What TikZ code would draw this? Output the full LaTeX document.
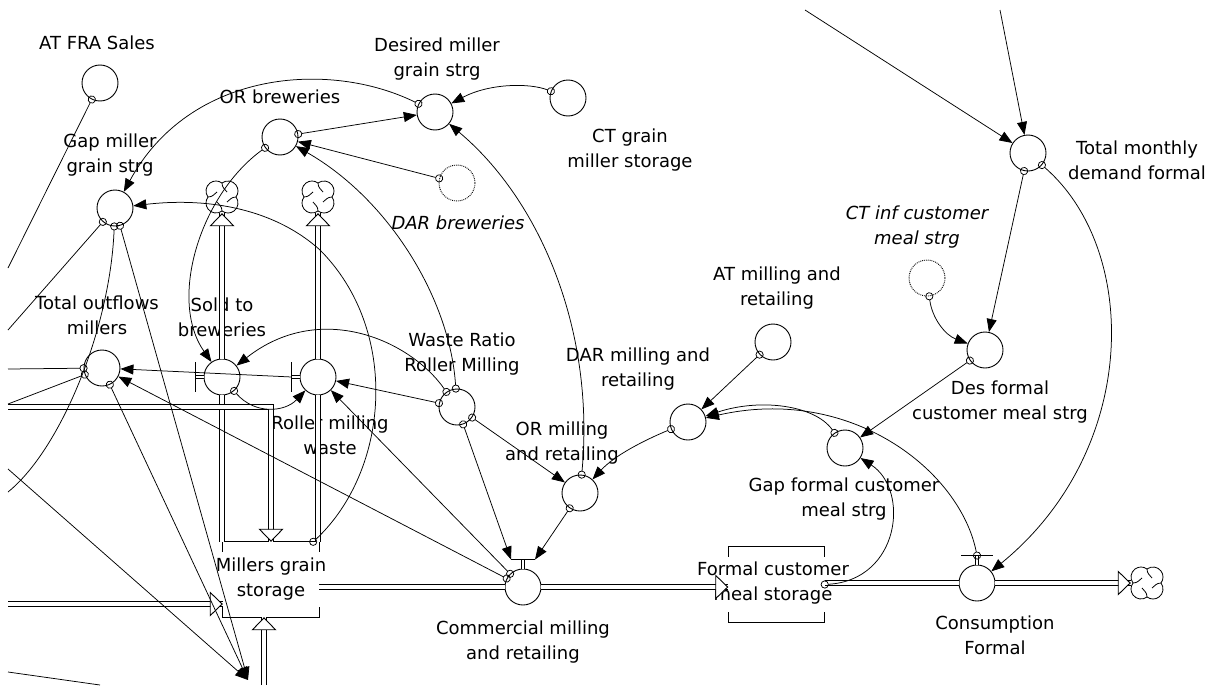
\documentclass[tikz,border=0pt]{standalone}
\usepackage{fontspec}
\setmainfont{DejaVu Sans}
\usepackage{tikz}
\usetikzlibrary{arrows.meta,calc}
\definecolor{SfInk}{RGB}{0,0,0}
\newcommand{\sflabel}{\fontsize{18}{25}\selectfont}
\tikzset{
  sf/aux/.style={
    circle,
    draw=SfInk,
    line width=0.9pt,
    minimum size=36pt,
    inner sep=0pt
  },
  sf/ghost/.style={sf/aux, densely dotted},
  sf/stock/.style={
    rectangle,
    minimum width=96pt,
    minimum height=75pt,
    inner sep=0pt
  },
  sf/cloudspot/.style={circle, minimum size=32pt, inner sep=0pt},
  sf/clover/.pic={
    \foreach \a in {45,135,225,315} {
      \draw[SfInk, line width=0.8pt] ($(\a:8.49)+(\a-81.9:10)$) arc[start angle=\a-81.9, end angle=\a+81.9, radius=10];
      \draw[SfInk, line width=0.8pt] (\a-45:14) .. controls (\a-45:9) and ($(\a-45:8)+(\a+45:3)$) .. ($(\a-45:5)+(\a+45:5)$);
    }
  },
  sf/label/.style={align=center, font=\sflabel, text=SfInk, inner sep=0pt},
  sf/italic/.style={sf/label, font=\sflabel\itshape},
  sf/pipe/.style={draw=SfInk, line width=0.9pt, double=white, double distance=3.6pt},
  sf/pipehead/.style={draw=white, line width=0.4pt, -{Triangle[length=13pt,width=25pt,color=SfInk,fill=white,line width=0.9pt]}},
  sf/stem/.style={draw=SfInk, line width=0.7pt, double=white, double distance=2.4pt},
  sf/bar/.style={draw=SfInk, line width=1pt},
  sf/edge/.style={draw=SfInk, line width=0.9pt},
  sf/link/.style={draw=SfInk, line width=0.75pt, {Circle[open,length=8pt,width=8pt]}-{Triangle[length=13pt,width=10pt]}, shorten <=-4pt},
  sf/linkout/.style={draw=SfInk, line width=0.75pt, {Circle[open,length=8pt,width=8pt]}-, shorten <=-4pt},
  sf/linkin/.style={draw=SfInk, line width=0.75pt, -{Triangle[length=13pt,width=10pt]}},
  sf/plain/.style={draw=SfInk, line width=0.75pt}
}

\begin{document}
\begin{tikzpicture}[x=1pt,y=-1pt]
  \useasboundingbox (0,0) rectangle (1206,685);

  % auxiliaries
  \node[sf/aux] (atfra) at (100,83) {};
  \node[sf/label] (atfraL) at (97,43) {AT FRA Sales};
  \node[sf/aux] (gapmill) at (115,208) {};
  \node[sf/label] (gapmillL) at (110,155) {Gap miller\\grain strg};
  \node[sf/aux] (orbrew) at (280,137) {};
  \node[sf/label] (orbrewL) at (280,97) {OR breweries};
  \node[sf/aux] (desmill) at (435,112) {};
  \node[sf/label] (desmillL) at (437,59) {Desired miller\\grain strg};
  \node[sf/aux] (ctgrain) at (568,98) {};
  \node[sf/label] (ctgrainL) at (630,150) {CT grain\\miller storage};
  \node[sf/ghost] (darbrew) at (457,183) {};
  \node[sf/italic] (darbrewL) at (458,223) {DAR breweries};
  \node[sf/aux] (totout) at (102,368) {};
  \node[sf/label] (totoutL) at (97,315) {Total outflows\\millers};
  \node[sf/aux] (waste) at (457,407) {};
  \node[sf/label] (wasteL) at (462,354) {Waste Ratio\\Roller Milling};
  \node[sf/aux] (ormill) at (580,493) {};
  \node[sf/label] (ormillL) at (562,443) {OR milling\\and retailing};
  \node[sf/aux] (darmill) at (688,422) {};
  \node[sf/label] (darmillL) at (638,369) {DAR milling and\\retailing};
  \node[sf/aux] (atmill) at (773,342) {};
  \node[sf/label] (atmillL) at (777,288) {AT milling and\\retailing};
  \node[sf/aux] (gapform) at (845,448) {};
  \node[sf/label] (gapformL) at (844,499) {Gap formal customer\\meal strg};
  \node[sf/aux] (desform) at (985,350) {};
  \node[sf/label] (desformL) at (1000,402) {Des formal\\customer meal strg};
  \node[sf/ghost] (ctinf) at (927,278) {};
  \node[sf/italic] (ctinfL) at (917,227) {CT inf customer\\meal strg};
  \node[sf/aux] (totdem) at (1028,153) {};
  \node[sf/label] (totdemL) at (1137,160) {Total monthly\\demand formal};

  % valves
  \node[sf/aux] (sold) at (222,377) {};
  \node[sf/label] (soldL) at (222,317) {Sold to\\breweries};
  \node[sf/aux] (roller) at (318,377) {};
  \node[sf/label] (rollerL) at (330,435) {Roller milling\\waste};
  \node[sf/aux] (comm) at (523,587) {};
  \node[sf/label] (commL) at (523,642) {Commercial milling\\and retailing};
  \node[sf/aux] (cons) at (977,583) {};
  \node[sf/label] (consL) at (995,635) {Consumption\\Formal};

  % stocks and clouds
  \node[sf/stock] (ms) at (271,579.5) {};
  \node[sf/label] (msL) at (ms) {Millers grain\\storage};
  \node[sf/stock] (fs) at (776.5,584.5) {};
  \node[sf/label] (fsL) at (773,583) {Formal customer\\meal storage};
  \node[sf/cloudspot] (cl1) at (222,197) {};
  \node[sf/cloudspot] (cl2) at (318,197) {};
  \node[sf/cloudspot] (cl3) at (1147,583) {};
  \pic at (cl1) {sf/clover};
  \pic at (cl2) {sf/clover};
  \pic at (cl3) {sf/clover};

  \draw[sf/edge] ($(ms.north west)+(0,10)$) -- (ms.north west) -- (ms.north east) -- ($(ms.north east)+(0,10)$);
  \draw[sf/edge] ($(ms.south west)+(0,-10)$) -- (ms.south west) -- (ms.south east) -- ($(ms.south east)+(0,-10)$);
  \draw[sf/edge] ($(fs.north west)+(0,10)$) -- (fs.north west) -- (fs.north east) -- ($(fs.north east)+(0,10)$);
  \draw[sf/edge] ($(fs.south west)+(0,-10)$) -- (fs.south west) -- (fs.south east) -- ($(fs.south east)+(0,-10)$);

  % ends outside the window
  \coordinate (offA) at (8,268);
  \coordinate (offB) at (8,330);
  \coordinate (offC) at (8,492);
  \coordinate (offD) at (8,369);
  \coordinate (offE) at (8,404);
  \coordinate (offF) at (8,469);
  \coordinate (offG) at (8,672);
  \coordinate (offH) at (100,685);
  \coordinate (botin) at (248,680);
  \coordinate (topA) at (805,10);
  \coordinate (topB) at (1000,10);
  \coordinate (inL) at (8,407);
  \coordinate (inL2) at (8,604);
  \coordinate (inB) at (264,685);

  % flows
  \draw[sf/pipe] (sold |- ms.north) -- (sold.south);
  \draw[sf/pipe] (sold.north) -- (cl1.south);
  \draw[sf/pipehead] ($(cl1.south)+(0,25)$) -- (cl1.south);
  \draw[sf/pipe] (roller |- ms.north) -- (roller.south);
  \draw[sf/pipe] (roller.north) -- (cl2.south);
  \draw[sf/pipehead] ($(cl2.south)+(0,25)$) -- (cl2.south);
  \draw[sf/pipe] (inL) -| (ms.north);
  \draw[sf/pipehead] ($(ms.north)+(0,-25)$) -- (ms.north);
  \draw[sf/pipe] (inL2) -- (inL2 -| ms.west);
  \draw[sf/pipehead] ($(inL2 -| ms.west)+(-25,0)$) -- (inL2 -| ms.west);
  \draw[sf/pipe] (inB) -- (inB |- ms.south);
  \draw[sf/pipehead] ($(inB |- ms.south)+(0,25)$) -- (inB |- ms.south);
  \draw[sf/pipe] (ms.east |- comm) -- (comm.west);
  \draw[sf/pipe] (comm.east) -- (fs.west |- comm);
  \draw[sf/pipehead] ($(fs.west |- comm)+(-25,0)$) -- (fs.west |- comm);
  \draw[sf/pipe] (fs.east |- cons) -- (cons.west);
  \draw[sf/pipe] (cons.east) -- (cl3.west);
  \draw[sf/pipehead] ($(cl3.west)+(-25,0)$) -- (cl3.west);

  % valve handles
  \draw[sf/stem] (sold.west) -- ++(-8,0) coordinate (soldh);
  \draw[sf/bar] ($(soldh)+(0,-15)$) -- ($(soldh)+(0,15)$);
  \draw[sf/stem] (roller.west) -- ++(-8,0) coordinate (rollerh);
  \draw[sf/bar] ($(rollerh)+(0,-15)$) -- ($(rollerh)+(0,15)$);
  \draw[sf/stem] (comm.north) -- ++(0,-9) coordinate (commh);
  \draw[sf/bar] ($(commh)+(-12,0)$) coordinate (commhl) -- ($(commh)+(12,0)$) coordinate (commhr);
  \draw[sf/stem] (cons.north) -- ++(0,-9) coordinate (consh);
  \draw[sf/bar] ($(consh)+(-16,0)$) -- ($(consh)+(16,0)$);

  % connectors
  \draw[sf/linkout] (atfra) -- (offA);
  \draw[sf/link] (desmill) .. controls (330,60) and (190,70) .. (gapmill);
  \draw[sf/link] (orbrew) -- (desmill);
  \draw[sf/link] (ctgrain) .. controls (530,83) and (490,83) .. (desmill);
  \draw[sf/link] (darbrew) -- (orbrew);
  \draw[sf/link] (waste) .. controls (450,300) and (390,200) .. (orbrew);
  \draw[sf/link] (waste) .. controls (410,340) and (320,300) .. (sold);
  \draw[sf/link] (orbrew) .. controls (200,195) and (168,300) .. (sold);
  \draw[sf/link] (waste) -- (roller);
  \draw[sf/link] (sold) .. controls (255,415) and (285,412) .. (roller);
  \draw[sf/linkin] (rollerh) -- (totout);
  \draw[sf/link] (comm) -- (totout);
  \draw[sf/link] (comm) -- (roller);
  \draw[sf/link] (waste) -- (commhl);
  \draw[sf/link] (ormill) -- (commhr);
  \draw[sf/link] (waste) -- (ormill);
  \draw[sf/link] (darmill) .. controls (645,440) and (615,455) .. (ormill);
  \draw[sf/link] (atmill) -- (darmill);
  \draw[sf/link] (ormill) .. controls (595,330) and (540,200) .. (desmill);
  \draw[sf/link] (gapform) .. controls (815,405) and (760,398) .. (darmill);
  \draw[sf/link] (consh) .. controls (960,470) and (850,385) .. (darmill);
  \draw[sf/link] (fs.east) .. controls (900,580) and (910,490) .. (gapform);
  \draw[sf/link] (totdem) -- (desform);
  \draw[sf/link] (totdem) .. controls (1140,250) and (1140,450) .. (cons);
  \draw[sf/link] (ctinf) .. controls (932,318) and (945,335) .. (desform);
  \draw[sf/link] (desform) -- (gapform);
  \draw[sf/linkin] (topA) -- (totdem);
  \draw[sf/linkin] (topB) -- (totdem);
  \draw[sf/link] ($(ms.north east)+(-6,0)$) .. controls (390,470) and (400,330) .. (320,250)
    .. controls (270,205) and (200,198) .. (gapmill);
  \draw[sf/link] (gapmill) -- (botin);
  \draw[sf/link] (totout) -- (botin);
  \draw[sf/linkin] (offF) -- (botin);
  \draw[sf/linkout] (gapmill) -- (offB);
  \draw[sf/linkout] (gapmill) .. controls (110,330) and (60,450) .. (offC);
  \draw[sf/linkout] (totout) -- (offD);
  \draw[sf/linkout] (totout) -- (offE);
  \draw[sf/plain] (offG) -- (offH);
\end{tikzpicture}
\end{document}
